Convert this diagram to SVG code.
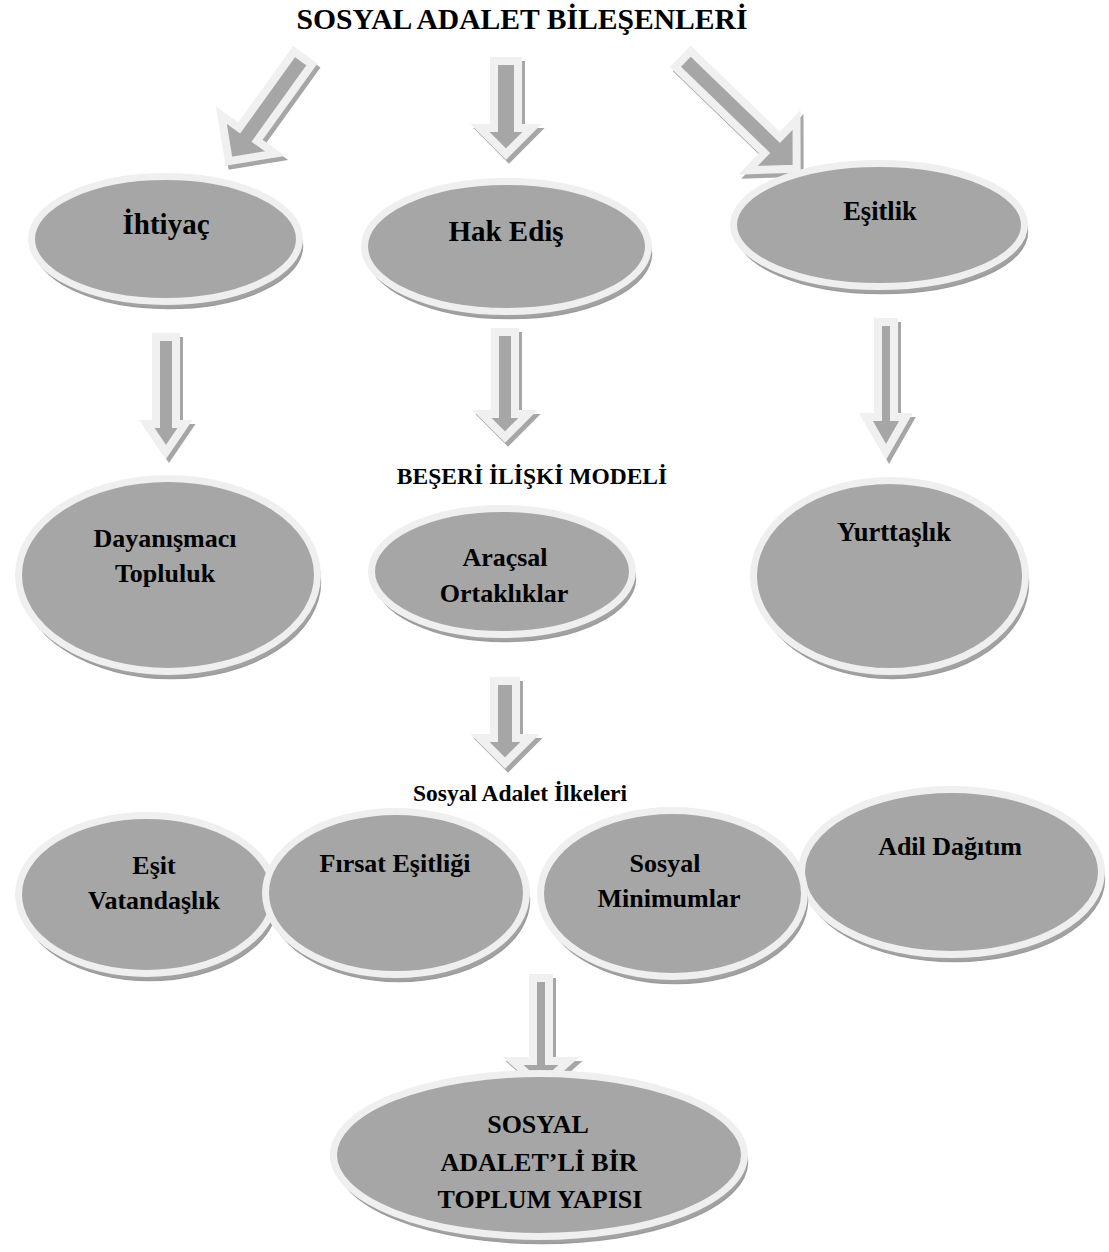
<svg xmlns="http://www.w3.org/2000/svg" width="1109" height="1252" viewBox="0 0 1109 1252">
<style>
text{font-family:"Liberation Serif","Times New Roman",serif;font-weight:bold;fill:#000;text-anchor:middle}
.ell{fill:#a6a6a6;stroke:#efefef;stroke-width:7}
.sh{fill:#a2a2a2;stroke:#9c9c9c;stroke-width:1.5}
.arr{fill:#a6a6a6;stroke:#f0f0f0;stroke-width:8;stroke-linejoin:miter}
.arrsh{fill:#a6a6a6;stroke:#a6a6a6;stroke-width:8;stroke-linejoin:miter}
</style>
<rect width="1109" height="1252" fill="#ffffff"/>
<g id="connectors">
  <!-- top middle -->
  <path class="arrsh" transform="translate(509,65)" d="M-12,0 L12,0 L12,67 L26,67 L0,93 L-26,67 L-12,67 Z"/>
  <path class="arr" transform="translate(506,61)" d="M-12,0 L12,0 L12,67 L26,67 L0,93 L-26,67 L-12,67 Z"/>
  <!-- top left -->
  <path class="arrsh" transform="translate(306,62) rotate(35.7)" d="M-11,0 L11,0 L11,94 L33,94 L0,127 L-33,94 L-11,94 Z"/>
  <path class="arr" transform="translate(303,58) rotate(35.7)" d="M-11,0 L11,0 L11,94 L33,94 L0,127 L-33,94 L-11,94 Z"/>
  <!-- top right -->
  <path class="arrsh" transform="translate(686,63) rotate(-46)" d="M-11,0 L11,0 L11,124 L35,124 L0,158 L-35,124 L-11,124 Z"/>
  <path class="arr" transform="translate(683,59) rotate(-46)" d="M-11,0 L11,0 L11,124 L35,124 L0,158 L-35,124 L-11,124 Z"/>
  <!-- second row left -->
  <path class="arrsh" transform="translate(169,341)" d="M-10,0 L10,0 L10,87 L19,87 L0,115 L-19,87 L-10,87 Z"/>
  <path class="arr" transform="translate(166,337)" d="M-10,0 L10,0 L10,87 L19,87 L0,115 L-19,87 L-10,87 Z"/>
  <!-- second row middle -->
  <path class="arrsh" transform="translate(508,336)" d="M-10,0 L10,0 L10,82 L23,82 L0,105 L-23,82 L-10,82 Z"/>
  <path class="arr" transform="translate(505,332)" d="M-10,0 L10,0 L10,82 L23,82 L0,105 L-23,82 L-10,82 Z"/>
  <!-- second row right -->
  <path class="arrsh" transform="translate(889,326)" d="M-8,0 L8,0 L8,95 L20,95 L0,130 L-20,95 L-8,95 Z"/>
  <path class="arr" transform="translate(886,322)" d="M-8,0 L8,0 L8,95 L20,95 L0,130 L-20,95 L-8,95 Z"/>
  <!-- third -->
  <path class="arrsh" transform="translate(508,685)" d="M-11,0 L11,0 L11,57 L25,57 L0,82 L-25,57 L-11,57 Z"/>
  <path class="arr" transform="translate(505,681)" d="M-11,0 L11,0 L11,57 L25,57 L0,82 L-25,57 L-11,57 Z"/>
  <!-- fourth -->
  <path class="arrsh" transform="translate(544,982)" d="M-8,0 L8,0 L8,83 L28,83 L0,108 L-28,83 L-8,83 Z"/>
  <path class="arr" transform="translate(541,978)" d="M-8,0 L8,0 L8,83 L28,83 L0,108 L-28,83 L-8,83 Z"/>
</g>
<text x="522" y="29" font-size="29" textLength="451" lengthAdjust="spacingAndGlyphs">SOSYAL ADALET BİLEŞENLERİ</text>
<g id="ihtiyac">
  <ellipse class="sh" cx="168.5" cy="246" rx="134" ry="62.5"/>
  <ellipse class="ell" cx="165.5" cy="239" rx="134" ry="62.5"/>
  <text x="166" y="234" font-size="29">İhtiyaç</text>
</g>
<g id="hakedis">
  <ellipse class="sh" cx="509.5" cy="253.5" rx="142" ry="65"/>
  <ellipse class="ell" cx="506.5" cy="246.5" rx="142" ry="65"/>
  <text x="506" y="241" font-size="29">Hak Ediş</text>
</g>
<g id="esitlik">
  <ellipse class="sh" cx="882" cy="232" rx="145.5" ry="61.5"/>
  <ellipse class="ell" cx="879" cy="225" rx="145.5" ry="61.5"/>
  <text x="880" y="220" font-size="26.5">Eşitlik</text>
</g>
<text x="532" y="484" font-size="23.5">BEŞERİ İLİŞKİ MODELİ</text>
<g id="dayanismaci">
  <ellipse class="sh" cx="171" cy="582" rx="149.5" ry="96.5"/>
  <ellipse class="ell" cx="168" cy="575" rx="149.5" ry="96.5"/>
  <text x="165" y="547" font-size="26">Dayanışmacı</text>
  <text x="165" y="582" font-size="26">Topluluk</text>
</g>
<g id="aracsal">
  <ellipse class="sh" cx="505" cy="578.5" rx="130.5" ry="63"/>
  <ellipse class="ell" cx="502" cy="571.5" rx="130.5" ry="63"/>
  <text x="505" y="566" font-size="26">Araçsal</text>
  <text x="504" y="602" font-size="26">Ortaklıklar</text>
</g>
<g id="yurttaslik">
  <ellipse class="sh" cx="892.5" cy="583" rx="136" ry="95.5"/>
  <ellipse class="ell" cx="889.5" cy="576" rx="136" ry="95.5"/>
  <text x="894" y="541" font-size="26.5">Yurttaşlık</text>
</g>
<text x="520" y="801" font-size="23.5">Sosyal Adalet İlkeleri</text>
<g id="esit-vatandaslik">
  <ellipse class="sh" cx="149.5" cy="901.5" rx="128" ry="79"/>
  <ellipse class="ell" cx="146.5" cy="894.5" rx="128" ry="79"/>
  <text x="154" y="874" font-size="26">Eşit</text>
  <text x="154" y="909" font-size="26">Vatandaşlık</text>
</g>
<g id="firsat-esitligi">
  <ellipse class="sh" cx="399" cy="900" rx="130.5" ry="81.5"/>
  <ellipse class="ell" cx="396" cy="893" rx="130.5" ry="81.5"/>
  <text x="395" y="872" font-size="26">Fırsat Eşitliği</text>
</g>
<g id="adil-dagitim">
  <ellipse class="sh" cx="954.5" cy="879" rx="150" ry="82.5"/>
  <ellipse class="ell" cx="951.5" cy="872" rx="150" ry="82.5"/>
  <text x="950" y="855" font-size="26">Adil Dağıtım</text>
</g>
<g id="sosyal-minimumlar">
  <ellipse class="sh" cx="675.5" cy="900.5" rx="132" ry="83"/>
  <ellipse class="ell" cx="672.5" cy="893.5" rx="132" ry="83"/>
  <text x="665" y="872" font-size="26">Sosyal</text>
  <text x="669" y="907" font-size="26">Minimumlar</text>
</g>
<g id="sosyal-adaletli-toplum">
  <ellipse class="sh" cx="542" cy="1162" rx="205.5" ry="81.5"/>
  <ellipse class="ell" cx="539" cy="1155" rx="205.5" ry="81.5"/>
  <text x="538" y="1133" font-size="26">SOSYAL</text>
  <text x="539" y="1171" font-size="26">ADALET’Lİ BİR</text>
  <text x="540" y="1208" font-size="26">TOPLUM YAPISI</text>
</g>
</svg>
